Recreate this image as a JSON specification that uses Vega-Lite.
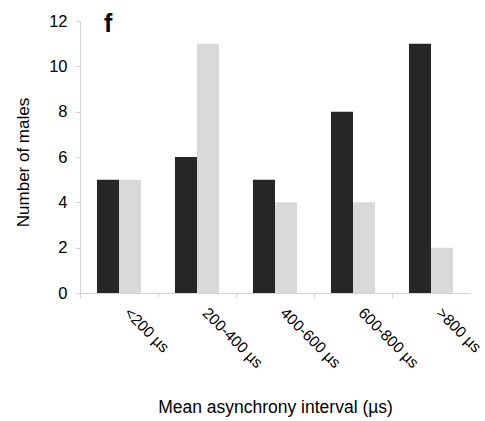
{
  "$schema": "https://vega.github.io/schema/vega-lite/v6.json",
  "width": 390,
  "height": 272,
  "autosize": {"type": "none"},
  "padding": {"left": 80, "top": 21, "right": 15, "bottom": 128},
  "background": "white",
  "config": {
    "view": {"stroke": null},
    "font": "Liberation Sans",
    "axis": {"grid": false, "labelFont": "Liberation Sans", "titleFont": "Liberation Sans", "labelColor": "#000000", "titleColor": "#000000", "titleFontWeight": "normal", "domainColor": "#d4d4d4", "tickColor": "#d4d4d4"}
  },
  "title": {"text": "f", "anchor": "start", "frame": "group", "fontSize": 25, "fontWeight": "bold", "font": "Liberation Sans", "color": "#000000", "dx": 24, "dy": 48, "baseline": "alphabetic"},
  "data": {
    "values": [
      {"interval": "<200 µs", "group": "A", "males": 5},
      {"interval": "<200 µs", "group": "B", "males": 5},
      {"interval": "200-400 µs", "group": "A", "males": 6},
      {"interval": "200-400 µs", "group": "B", "males": 11},
      {"interval": "400-600 µs", "group": "A", "males": 5},
      {"interval": "400-600 µs", "group": "B", "males": 4},
      {"interval": "600-800 µs", "group": "A", "males": 8},
      {"interval": "600-800 µs", "group": "B", "males": 4},
      {"interval": ">800 µs", "group": "A", "males": 11},
      {"interval": ">800 µs", "group": "B", "males": 2}
    ]
  },
  "mark": {"type": "bar"},
  "encoding": {
    "x": {
      "field": "interval", "type": "nominal", "sort": null,
      "scale": {"paddingInner": 0, "paddingOuter": 0},
      "axis": {"title": "Mean asynchrony interval (µs)", "titleFontSize": 17.5, "titleY": 119, "titleBaseline": "alphabetic", "labelFontSize": 15.5, "labelAngle": 45, "labelAlign": "left", "labelBaseline": "top", "labelPadding": 7, "tickSize": 5, "bandPosition": 0, "labelOffset": 13}
    },
    "xOffset": {"field": "group", "type": "nominal", "scale": {"paddingInner": 0, "paddingOuter": 0.77}},
    "y": {
      "field": "males", "type": "quantitative",
      "scale": {"domain": [0, 12]},
      "axis": {"title": "Number of males", "titleFontSize": 17, "titleX": -57, "titleY": 141, "titleBaseline": "middle", "labelFontSize": 16.5, "values": [0, 2, 4, 6, 8, 10, 12], "tickSize": 5, "labelPadding": 8}
    },
    "color": {
      "field": "group", "type": "nominal",
      "scale": {"domain": ["A", "B"], "range": ["#262626", "#d9d9d9"]},
      "legend": null
    }
  }
}
